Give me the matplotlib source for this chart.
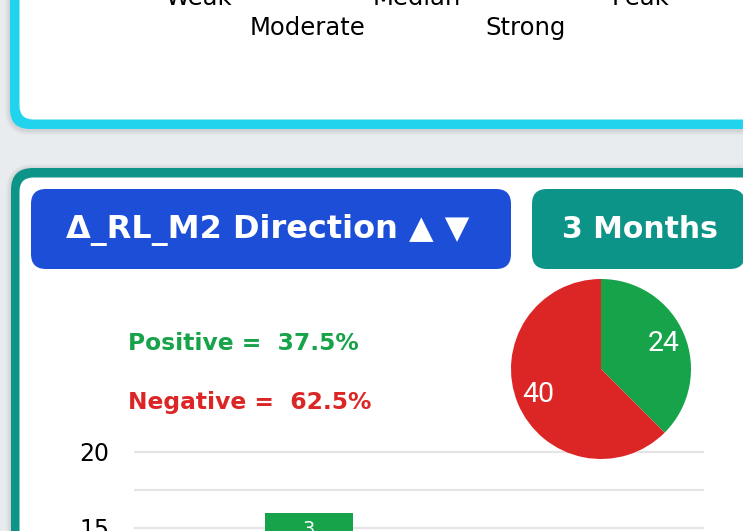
import matplotlib.pyplot as plt
from matplotlib.patches import FancyBboxPatch
import numpy as np

# Data
top_labels_row1 = ["Weak", "Median", "Peak"]
top_labels_row2 = ["Moderate", "Strong"]
pie_labels = ["Positive", "Negative"]
pie_counts = [24, 40]
categories = ["Weak", "Moderate", "Median", "Strong", "Peak"]
# only the Moderate stack reaches into the visible part of the axis (>15)
neg_counts = [0, 13, 0, 0, 0]
pos_counts = [0, 3, 0, 0, 0]

GREEN = "#16a34a"
RED = "#dc2626"
BLUE = "#1d4ed8"
TEAL = "#0d9488"
CYAN = "#22d3ee"
BG = "#e9ecef"

W, H = 743, 531
fig = plt.figure(figsize=(W / 100, H / 100), dpi=100)
fig.patch.set_facecolor(BG)

# background layer in pixel coordinates
bg = fig.add_axes([0, 0, 1, 1])
bg.set_xlim(0, W)
bg.set_ylim(H, 0)
bg.axis("off")


def rbox(x0, y0, x1, y1, r, color, alpha=1.0, z=1):
    p = FancyBboxPatch((x0, y0), x1 - x0, y1 - y0,
                       boxstyle=f"round,pad=0,rounding_size={r}",
                       facecolor=color, edgecolor="none", alpha=alpha, zorder=z)
    bg.add_patch(p)


# soft shadows
for k in range(1, 6):
    rbox(10 - k, -200, 770, 129 + k + 1, 20 + k, "#000000", alpha=0.02, z=0)
    rbox(11 - k, 168 - k + 1, 770, 720, 22 + k, "#000000", alpha=0.02, z=0)

# card 1 (cyan)
rbox(10, -200, 770, 129, 20, CYAN)
rbox(19.5, -200, 770, 119.5, 14, "white", z=2)

# card 2 (teal)
rbox(11, 168, 770, 720, 22, TEAL)
rbox(19.5, 177.5, 770, 720, 14, "white", z=2)

# header buttons
rbox(31, 189, 511, 269, 15, BLUE, z=3)
rbox(532, 189, 745, 269, 15, TEAL, z=3)
bg.text(268, 230, "Δ_RL_M2 Direction ▲ ▼", color="white", fontsize=23,
        fontweight="bold", ha="center", va="center", zorder=4)
bg.text(640, 230, "3 Months", color="white", fontsize=21.5,
        fontweight="bold", ha="center", va="center", zorder=4)

# leftover tick labels of the chart above (cut by the crop, as in the source)
for lab, x in zip(top_labels_row1, [198, 417, 640]):
    bg.text(x, -2, lab, fontsize=17.5, ha="center", va="center", zorder=4)
for lab, x in zip(top_labels_row2, [308, 526]):
    bg.text(x, 28, lab, fontsize=17.5, ha="center", va="center", zorder=4)

# percentage summary
total = sum(pie_counts)
bg.text(128, 343, f"Positive =  {pie_counts[0] / total * 100:.1f}%", color=GREEN,
        fontsize=16.8, fontweight="bold", ha="left", va="center", zorder=4)
bg.text(128, 403, f"Negative =  {pie_counts[1] / total * 100:.1f}%", color=RED,
        fontsize=16.8, fontweight="bold", ha="left", va="center", zorder=4)

# bar chart (only the top slice is visible)
axb = fig.add_axes([134 / W, 0, 570 / W, (H - 444.4) / H])
axb.set_facecolor("none")
x = np.arange(len(categories))
axb.bar(x, neg_counts, 0.77, color=RED, zorder=2)
axb.bar(x, pos_counts, 0.77, bottom=neg_counts, color=GREEN, zorder=2)
for i, (n, p) in enumerate(zip(neg_counts, pos_counts)):
    if p > 0:
        axb.text(i, n + p - 0.45, str(p), color="white", fontsize=14,
                 ha="center", va="top", zorder=3)
axb.set_xlim(-0.535, len(categories) - 0.535)
axb.set_ylim(14.8, 20.5)
axb.set_yticks([15, 20])
axb.set_yticks([17.5], minor=True)
axb.yaxis.grid(True, which="both", color="#e5e5e5", lw=1.6, zorder=0)
axb.tick_params(axis="y", which="both", length=0, pad=17.5, labelsize=17)
axb.set_xticks([])
for s in axb.spines.values():
    s.set_visible(False)

# pie
axp = fig.add_axes([511 / W, (H - 459) / H, 180 / W, 180 / H])
axp.pie(pie_counts, colors=[GREEN, RED], startangle=90, counterclock=False,
        autopct=lambda v: f"{round(v * total / 100):d}", pctdistance=0.75,
        textprops=dict(color="white", fontsize=20.5, family="Roboto"))
axp.set_xlim(-1, 1)
axp.set_ylim(-1, 1)
axp.set_aspect("equal")

plt.savefig("out.png", dpi=100, facecolor=fig.get_facecolor())
